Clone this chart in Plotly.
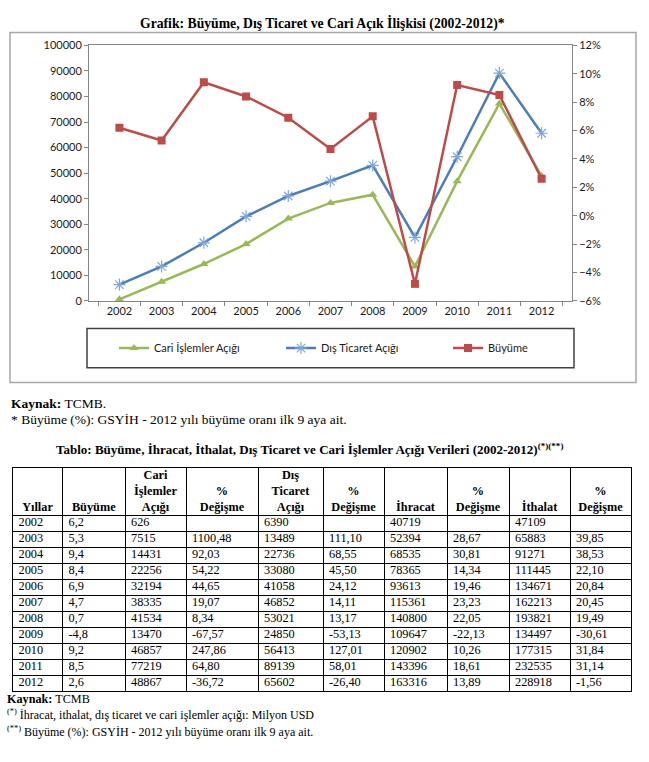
import plotly.graph_objects as go

W, H = 649, 762

years = ["2002", "2003", "2004", "2005", "2006", "2007", "2008", "2009", "2010", "2011", "2012"]
cari = [626, 7515, 14431, 22256, 32194, 38335, 41534, 13470, 46857, 77219, 48867]
dis_ticaret = [6390, 13489, 22736, 33080, 41058, 46852, 53021, 24850, 56413, 89139, 65602]
# growth as drawn in the chart (the chart plots 2008 at ~7%)
buyume_chart = [6.2, 5.3, 9.4, 8.4, 6.9, 4.7, 7.0, -4.8, 9.2, 8.5, 2.6]

# table columns
tbl_buyume = ["6,2", "5,3", "9,4", "8,4", "6,9", "4,7", "0,7", "-4,8", "9,2", "8,5", "2,6"]
tbl_cari_deg = ["", "1100,48", "92,03", "54,22", "44,65", "19,07", "8,34", "-67,57", "247,86", "64,80", "-36,72"]
tbl_dis_deg = ["", "111,10", "68,55", "45,50", "24,12", "14,11", "13,17", "-53,13", "127,01", "58,01", "-26,40"]
ihracat = [40719, 52394, 68535, 78365, 93613, 115361, 140800, 109647, 120902, 143396, 163316]
tbl_ihr_deg = ["", "28,67", "30,81", "14,34", "19,46", "23,23", "22,05", "-22,13", "10,26", "18,61", "13,89"]
ithalat = [47109, 65883, 91271, 111445, 134671, 162213, 193821, 134497, 177315, 232535, 228918]
tbl_ith_deg = ["", "39,85", "38,53", "22,10", "20,84", "20,45", "19,49", "-30,61", "31,84", "31,14", "-1,56"]

headers = ["Yıllar", "Büyüme", "Cari<br>İşlemler<br>Açığı", "%<br>Değişme",
           "Dış<br>Ticaret<br>Açığı", "%<br>Değişme", "İhracat", "%<br>Değişme",
           "İthalat", "%<br>Değişme"]

columns = [years, tbl_buyume, [str(v) for v in cari], tbl_cari_deg,
           [str(v) for v in dis_ticaret], tbl_dis_deg,
           [str(v) for v in ihracat], tbl_ihr_deg,
           [str(v) for v in ithalat], tbl_ith_deg]


def px(x):
    return x / W


def py(y):
    return 1 - y / H


SANS = "Lato, 'Open Sans', sans-serif"
SERIF = "'Liberation Serif', 'Times New Roman', serif"

fig = go.Figure()

# ---------------- chart ----------------
fig.add_trace(go.Scatter(
    x=years, y=cari, name="Cari İşlemler Açığı", mode="lines+markers",
    line=dict(color="#98B954", width=2.5),
    marker=dict(symbol="triangle-up", size=8, color="#98B954"),
))
fig.add_trace(go.Scatter(
    x=years, y=dis_ticaret, name="Dış Ticaret Açığı", mode="lines+markers",
    line=dict(color="#4A7EBB", width=2.5),
    marker=dict(symbol="asterisk-open", size=10, color="#7EA6DA",
                line=dict(color="#7EA6DA", width=1.2)),
))
fig.add_trace(go.Scatter(
    x=years, y=buyume_chart, name="Büyüme", mode="lines+markers", yaxis="y2",
    line=dict(color="#BE4B48", width=2.5),
    marker=dict(symbol="square", size=8, color="#BE4B48"),
))

# ---------------- table (on its own axes) ----------------
col_widths = [50, 62.5, 61, 72, 65, 61, 63, 62, 61, 61]
header_h = 48
row_h = 16.3
n_rows = len(years)
col_edges = [0]
for w_ in col_widths:
    col_edges.append(col_edges[-1] + w_)
row_edges = [0, header_h] + [header_h + row_h * (i + 1) for i in range(n_rows)]
total_w = col_edges[-1]
total_h = row_edges[-1]

cell_x, cell_y, cell_t = [], [], []
for c, col in enumerate(columns):
    for r, val in enumerate(col):
        if val == "":
            continue
        cell_x.append(col_edges[c] + 6)
        cell_y.append(header_h + row_h * (r + 0.5))
        cell_t.append(val)

fig.add_trace(go.Scatter(
    x=cell_x, y=cell_y, text=cell_t, mode="text", textposition="middle right",
    textfont=dict(family=SERIF, size=12.3, color="black"),
    xaxis="x3", yaxis="y3", hoverinfo="skip", showlegend=False, cliponaxis=False,
))
fig.add_trace(go.Scatter(
    x=[(col_edges[c] + col_edges[c + 1]) / 2 for c in range(len(headers))],
    y=[header_h - 1] * len(headers),
    text=[f"<b>{h}</b>" for h in headers], mode="text", textposition="top center",
    textfont=dict(family=SERIF, size=12.3, color="black"),
    xaxis="x3", yaxis="y3", hoverinfo="skip", showlegend=False, cliponaxis=False,
))

axis_font = dict(family=SANS, size=11, color="#1a1a1a")
fig.update_layout(
    width=W, height=H,
    margin=dict(l=0, r=0, t=0, b=0),
    paper_bgcolor="white", plot_bgcolor="white",
    showlegend=True,
    xaxis=dict(
        domain=[px(89), px(572)], type="category",
        showline=True, linecolor="#868686", linewidth=1, mirror=True,
        ticks="outside", ticklen=4, tickcolor="#868686", tickson="boundaries",
        showgrid=False, tickfont=axis_font, anchor="y",
    ),
    yaxis=dict(
        domain=[py(299), py(39)], range=[0, 100000], dtick=10000,
        showline=True, linecolor="#868686", linewidth=1,
        ticks="outside", ticklen=4, tickcolor="#868686",
        showgrid=False, zeroline=False, tickfont=axis_font,
        tickformat="d",
    ),
    yaxis2=dict(
        overlaying="y", side="right", range=[-6, 12], dtick=2,
        ticksuffix="%", showline=True, linecolor="#868686", linewidth=1,
        ticks="outside", ticklen=4, tickcolor="#868686",
        showgrid=False, zeroline=False, tickfont=axis_font, anchor="x",
    ),
    xaxis3=dict(
        domain=[px(12.5), px(12.5 + total_w)], range=[0, total_w], anchor="y3",
        tickvals=col_edges, showgrid=True, gridcolor="black", gridwidth=1,
        showticklabels=False, ticks="", zeroline=False,
        showline=True, linecolor="black", linewidth=1.3, mirror=True, fixedrange=True,
    ),
    yaxis3=dict(
        domain=[py(469 + total_h), py(469)], range=[total_h, 0], anchor="x3",
        tickvals=row_edges, showgrid=True, gridcolor="black", gridwidth=1,
        showticklabels=False, ticks="", zeroline=False,
        showline=True, linecolor="black", linewidth=1.3, mirror=True, fixedrange=True,
    ),
    legend=dict(
        orientation="h", x=px(114), xanchor="left", y=py(347), yanchor="middle",
        font=dict(family=SANS, size=11, color="#1a1a1a"),
        entrywidth=122, bgcolor="rgba(0,0,0,0)", borderwidth=0,
        traceorder="normal",
    ),
    shapes=[
        dict(type="rect", xref="paper", yref="paper", x0=px(10), x1=px(636), y0=py(382), y1=py(26),
             line=dict(color="#A6A6A6", width=1.5), layer="below"),
        dict(type="rect", xref="paper", yref="paper", x0=px(87), x1=px(574), y0=py(367), y1=py(327),
             line=dict(color="#404040", width=1.5)),
    ],
    annotations=[
        dict(text="<b>Grafik: Büyüme, Dış Ticaret ve Cari Açık İlişkisi (2002-2012)*</b>",
             x=px(322), y=py(17), xref="paper", yref="paper", showarrow=False,
             xanchor="center", yanchor="middle", font=dict(family=SERIF, size=13.7, color="black")),
        dict(text="<b>Kaynak:</b> TCMB.", x=px(9), y=py(403), xref="paper", yref="paper",
             showarrow=False, xanchor="left", yanchor="middle",
             font=dict(family=SERIF, size=13.5, color="black")),
        dict(text="* Büyüme (%): GSYİH - 2012 yılı büyüme oranı ilk 9 aya ait.", x=px(9), y=py(420),
             xref="paper", yref="paper", showarrow=False, xanchor="left", yanchor="middle",
             font=dict(family=SERIF, size=13.5, color="black")),
        dict(text="<b>Tablo: Büyüme, İhracat, İthalat, Dış Ticaret ve Cari İşlemler Açığı Verileri (2002-2012)<sup>(*)(**)</sup></b>",
             x=px(54), y=py(450), xref="paper", yref="paper", showarrow=False,
             xanchor="left", yanchor="middle", font=dict(family=SERIF, size=13, color="black")),
        dict(text="<b>Kaynak:</b> TCMB", x=px(5), y=py(704), xref="paper", yref="paper",
             showarrow=False, xanchor="left", yanchor="middle",
             font=dict(family=SERIF, size=12.2, color="black")),
        dict(text="<sup>(*)</sup> İhracat, ithalat, dış ticaret ve cari işlemler açığı: Milyon USD",
             x=px(5), y=py(720), xref="paper", yref="paper", showarrow=False,
             xanchor="left", yanchor="middle", font=dict(family=SERIF, size=12, color="black")),
        dict(text="<sup>(**)</sup> Büyüme (%): GSYİH - 2012 yılı büyüme oranı ilk 9 aya ait.",
             x=px(5), y=py(737), xref="paper", yref="paper", showarrow=False,
             xanchor="left", yanchor="middle", font=dict(family=SERIF, size=12, color="black")),
    ],
)

fig.write_html("out.html", config={"displayModeBar": False},
               post_script="document.body.style.margin='0px';")
